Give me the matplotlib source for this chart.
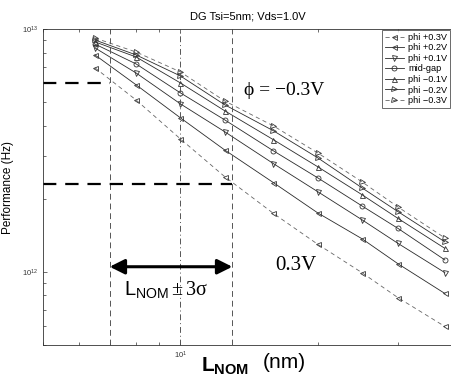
import matplotlib
matplotlib.use("Agg")
import matplotlib.pyplot as plt
from matplotlib.ticker import NullFormatter

plt.rcParams['font.family'] = ['Liberation Sans', 'DejaVu Sans']
plt.rcParams['mathtext.fontset'] = 'custom'
plt.rcParams['mathtext.rm'] = 'Liberation Serif'
plt.rcParams['mathtext.sf'] = 'Liberation Sans'
plt.rcParams['mathtext.bf'] = 'Liberation Sans:bold'
plt.rcParams['mathtext.it'] = 'Liberation Serif:italic'

# Gate length (nm)
L_nom = [6.5, 8, 10, 12.5, 16, 20, 25, 30, 38]

# Performance (Hz) for each work function offset
perf_p03 = [6.92e12, 5.10e12, 3.53e12, 2.47e12, 1.74e12, 1.30e12, 0.993e12, 0.783e12, 0.596e12]
perf_p02 = [7.82e12, 5.89e12, 4.31e12, 3.18e12, 2.33e12, 1.75e12, 1.37e12, 1.08e12, 0.815e12]
perf_p01 = [8.36e12, 6.59e12, 4.92e12, 3.78e12, 2.79e12, 2.14e12, 1.64e12, 1.31e12, 0.993e12]
perf_mid = [8.67e12, 7.18e12, 5.46e12, 4.23e12, 3.15e12, 2.44e12, 1.87e12, 1.51e12, 1.12e12]
perf_m01 = [8.85e12, 7.67e12, 6.00e12, 4.61e12, 3.50e12, 2.71e12, 2.08e12, 1.66e12, 1.25e12]
perf_m02 = [9.01e12, 7.82e12, 6.41e12, 4.88e12, 3.81e12, 2.95e12, 2.22e12, 1.77e12, 1.33e12]
perf_m03 = [9.18e12, 8.04e12, 6.66e12, 5.06e12, 3.99e12, 3.09e12, 2.35e12, 1.85e12, 1.38e12]

labels = ["phi +0.3V", "phi +0.2V", "phi +0.1V", "mid-gap", "phi \u22120.1V", "phi \u22120.2V", "phi \u22120.3V"]

# nominal length and +-3 sigma limits, and the matching performance levels
L_center = 10
L_low, L_high = 7, 13
perf_at_low, perf_at_high = 6.0e12, 2.3e12

fig = plt.figure(figsize=(4.52, 3.79), dpi=100)
ax = fig.add_axes([43/452, 34/379, 409/452, 316/379])

series = [perf_p03, perf_p02, perf_p01, perf_mid, perf_m01, perf_m02, perf_m03]
markers = ['<', '<', 'v', 'o', '^', '>', '>']
styles = ['--', '-', '-', '-', '-', '-', '--']
for y, m, ls, lab in zip(series, markers, styles, labels):
    col = '#666666' if ls == '--' else '#2a2a2a'
    ax.plot(L_nom, y, linestyle=ls, color=col, lw=0.6, marker=m, ms=3.6,
            mfc='none', mec='#333333', mew=0.6, label=lab,
            dashes=(5, 4) if ls == '--' else (None, None))

ax.set_xscale('log')
ax.set_yscale('log')
ax.set_xlim(5, 39.4)
ax.set_ylim(5e11, 1e13)

# +-3 sigma guide lines
ax.axvline(L_low, color='#555555', lw=0.7, ls=(0, (6, 4)))
ax.axvline(L_high, color='#555555', lw=0.7, ls=(0, (6, 4)))
ax.axvline(L_center, color='#555555', lw=0.7, ls=(0, (6, 3, 1, 3)))
ax.plot([5, L_low], [perf_at_low, perf_at_low], color='black', lw=1.6, ls=(0, (6, 4)))
ax.plot([5, L_high], [perf_at_high, perf_at_high], color='black', lw=1.6, ls=(0, (6, 4)))

ax.annotate('', xy=(L_low, 1.05e12), xytext=(L_high, 1.05e12),
            arrowprops=dict(arrowstyle='<|-|>,head_length=0.9,head_width=0.45',
                            color='black', lw=2.2, shrinkA=0, shrinkB=0))

ax.text(9.3, 8.4e11, r'$\mathsf{L_{NOM}}\pm3\mathrm{\sigma}$', fontsize=14.5,
        ha='center', va='center')
ax.text(16.9, 5.56e12, '\u03d5 = \u22120.3V', family='Liberation Serif', fontsize=14,
        ha='center', va='center')
ax.text(17.9, 1.06e12, '0.3V', family='Liberation Serif', fontsize=15,
        ha='center', va='center')

ax.spines['right'].set_visible(False)
for s in ax.spines.values():
    s.set_linewidth(0.6)
    s.set_color('#333333')
ax.tick_params(which='both', direction='in', top=True, right=False, labelsize=5.5,
               width=0.5, colors='#333333')
ax.tick_params(which='major', length=3)
ax.tick_params(which='minor', length=2)
ax.xaxis.set_minor_formatter(NullFormatter())
ax.yaxis.set_minor_formatter(NullFormatter())

ax.set_title('DG Tsi=5nm; Vds=1.0V', fontsize=8, pad=7)
ax.set_ylabel('Performance (Hz)', fontsize=8.5, labelpad=6)

# x label: bold L_NOM with the unit set a little higher
fig.text(201/452, 1 - 372/379, r'$\mathbf{L_{NOM}}$', fontsize=15, va='baseline', ha='left')
fig.text(263/452, 1 - 368/379, '(nm)', fontsize=15, va='baseline', ha='left')

leg = ax.legend(loc='upper right', bbox_to_anchor=(450/452, 1 - 30/379),
                bbox_transform=fig.transFigure, fontsize=6.6, frameon=True,
                fancybox=False, handlelength=2.0, handletextpad=0.5,
                labelspacing=0.17, borderpad=0.3, borderaxespad=0)
leg.get_frame().set_edgecolor('#444444')
leg.get_frame().set_linewidth(0.7)

fig.savefig('out.png', dpi=100)
